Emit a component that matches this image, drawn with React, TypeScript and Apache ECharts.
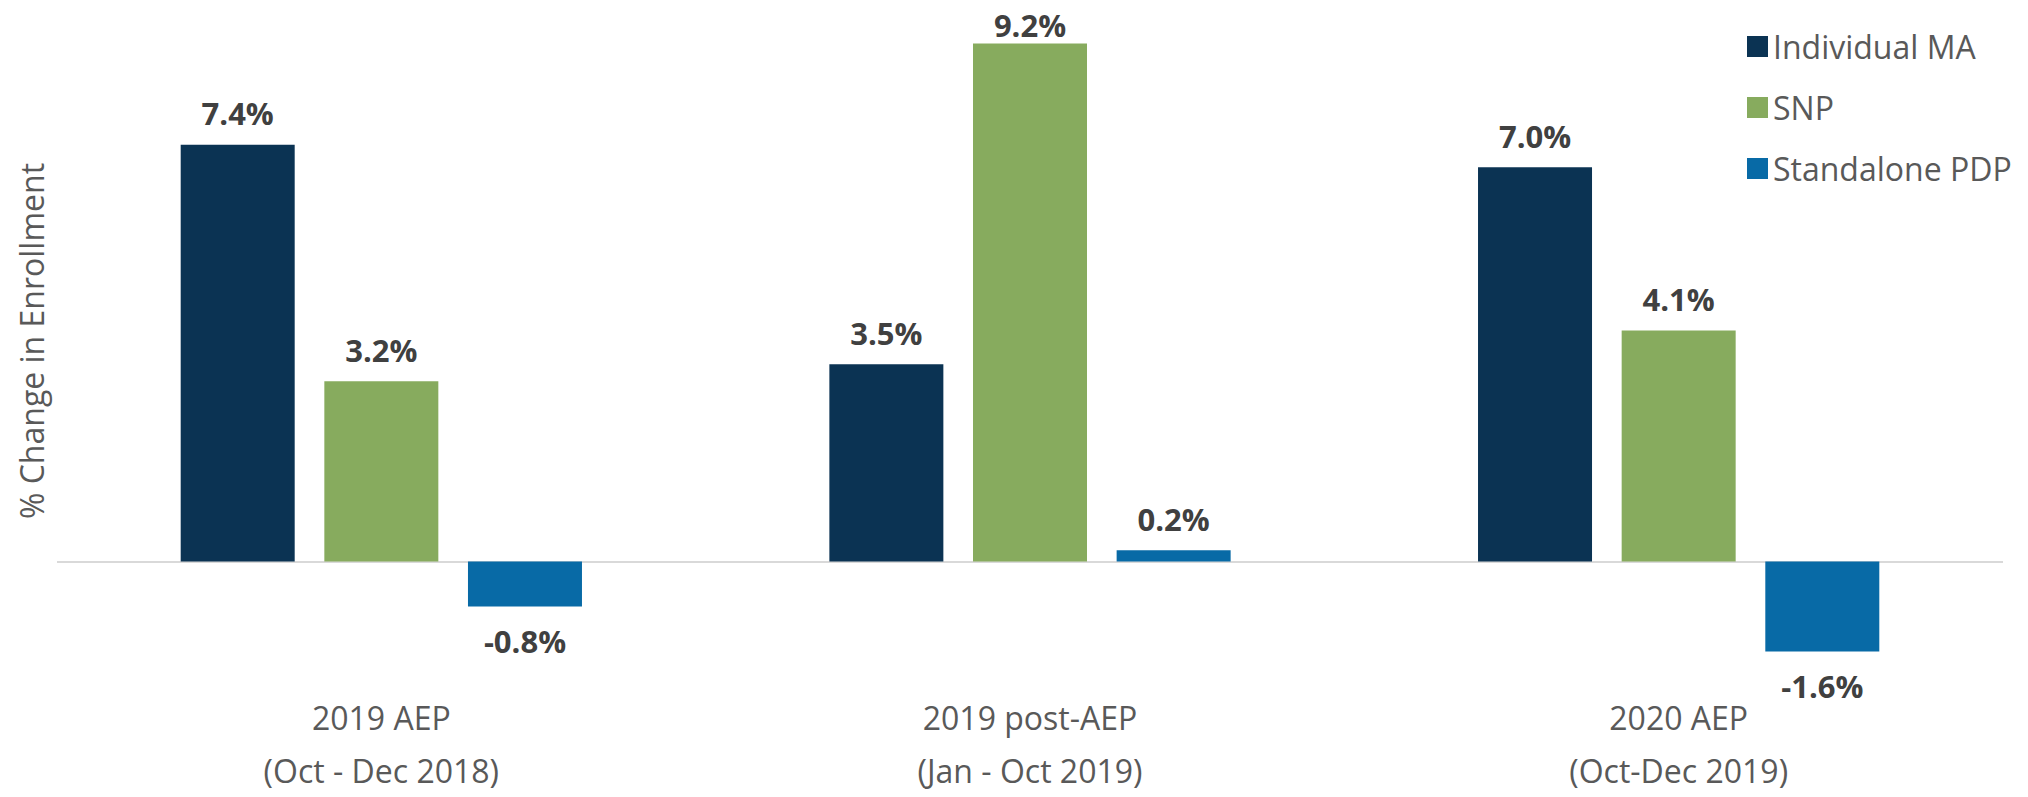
import React, { useEffect, useRef } from "react";
import * as echarts from "echarts";

const categories = ["2019 AEP\n(Oct - Dec 2018)", "2019 post-AEP\n(Jan - Oct 2019)", "2020 AEP\n(Oct-Dec 2019)"];
const seriesNames = ["Individual MA", "SNP", "Standalone PDP"];
const individualMA = [7.4, 3.5, 7.0];
const snp = [3.2, 9.2, 4.1];
const standalonePDP = [-0.8, 0.2, -1.6];
const colors = ["#0b3353", "#87ab5e", "#086aa6"];
const yAxisTitle = "% Change in Enrollment";

const FONT = "'Open Sans', 'Noto Sans', sans-serif";

export default function App() {
  const ref = useRef<HTMLDivElement>(null);
  useEffect(() => {
    if (!ref.current) return;
    const chart = echarts.init(ref.current, null, { renderer: "svg" });
    const allValues = [individualMA, snp, standalonePDP];
    const makeData = (vals: number[]) =>
      vals.map((v) => ({
        value: v,
        label: {
          position: v < 0 ? "bottom" : "top",
          distance: v < 0 ? 19 : v > 9 ? 3 : 16,
        },
      }));
    const series: any[] = allValues.map((vals, i) => ({
      name: seriesNames[i],
      type: "bar",
      data: makeData(vals),
      barWidth: 114,
      barGap: "26%",
      itemStyle: { color: colors[i] },
      label: {
        show: true,
        formatter: (p: any) => p.value.toFixed(1) + "%",
        fontFamily: FONT,
        fontWeight: "bold",
        fontSize: 31,
        color: "#404040",
      },
    }));
    series[0].markLine = {
      silent: true,
      symbol: "none",
      label: { show: false },
      lineStyle: { color: "#d9d9d9", width: 2, type: "solid" },
      data: [{ yAxis: 0 }],
      z: 1,
    };
    chart.setOption({
      animation: false,
      grid: { left: 57, right: 25, top: 26.5, height: 656.7, containLabel: false },
      legend: {
        orient: "vertical",
        left: 1742,
        top: 25.5,
        itemWidth: 21,
        itemHeight: 21,
        itemGap: 29,
        icon: "rect",
        data: seriesNames,
        textStyle: { fontFamily: FONT, fontSize: 32, color: "#595959", lineHeight: 32, padding: [0, 0, 0, 0] },
      },
      xAxis: {
        type: "category",
        data: categories,
        axisLine: { show: false, onZero: false },
        axisTick: { show: false },
        axisLabel: {
          fontFamily: FONT,
          fontSize: 32,
          color: "#595959",
          lineHeight: 53,
          margin: 17,
          interval: 0,
        },
      },
      yAxis: {
        type: "value",
        min: -2,
        max: 9.5,
        show: false,
        splitLine: { show: false },
      },
      graphic: [
        {
          type: "text",
          x: 31,
          y: 341,
          rotation: Math.PI / 2,
          style: {
            text: yAxisTitle,
            fontFamily: FONT,
            fontSize: 32,
            fill: "#595959",
            align: "center",
            verticalAlign: "middle",
          },
        },
      ],
      series,
    });
    return () => chart.dispose();
  }, []);
  return <div ref={ref} style={{ position: "absolute", left: 0, top: 0, width: 2028, height: 797 }} />;
}
